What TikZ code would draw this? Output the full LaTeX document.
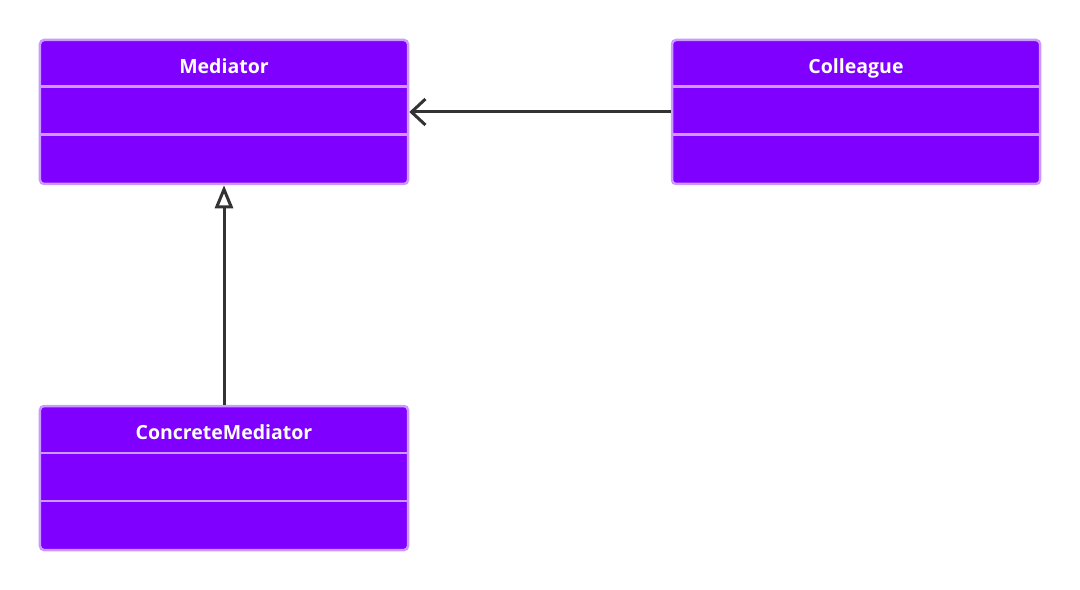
\documentclass[tikz,border=0pt]{standalone}
\usepackage{fontspec}
\setmainfont{Open Sans}
\usetikzlibrary{arrows.meta,positioning}
\definecolor{umlviolet}{HTML}{7F00FF}
\definecolor{umledge}{HTML}{CC99FF}
\definecolor{umlline}{HTML}{333333}

\begin{document}
\begin{tikzpicture}[x=1bp, y=-1bp,
    classbox/.style={draw=umledge, line width=2.5bp, fill=umlviolet,
      rounded corners=4bp, minimum width=368bp, minimum height=144bp, inner sep=0pt},
    classname/.style={text=white, font=\fontsize{19.5bp}{23bp}\selectfont\bfseries, inner sep=0pt, anchor=base},
    divider/.style={draw=umledge, line width=2.5bp},
    assoc/.style={draw=umlline, line width=3bp, -{Straight Barb[length=14bp, width=26bp]}},
    inherit/.style={draw=umlline, line width=3bp, -{Triangle[open, fill=white, length=23bp, width=18bp]}}]
  \useasboundingbox (0,0) rectangle (1080,590);
  % class boxes
  \node[classbox] (mediator) at (224,112) {};
  \node[classbox, right=261.5bp of mediator] (colleague) {};
  \node[classbox, below=219.5bp of mediator] (concrete) {};
  % names and compartments
  \foreach \cls/\txt in {mediator/Mediator, colleague/Colleague, concrete/ConcreteMediator} {
    \node[classname] (\cls-name) at ([yshift=-35bp]\cls.north) {\txt};
    \draw[divider] ([yshift=-48bp]\cls.north west) -- ([yshift=-48bp]\cls.north east);
    \draw[divider] ([yshift=-96bp]\cls.north west) -- ([yshift=-96bp]\cls.north east);
  }
  % relations
  \draw[assoc] (colleague.west) -- (mediator.east);
  \draw[inherit] (concrete.north) -- (mediator.south);
\end{tikzpicture}
\end{document}
